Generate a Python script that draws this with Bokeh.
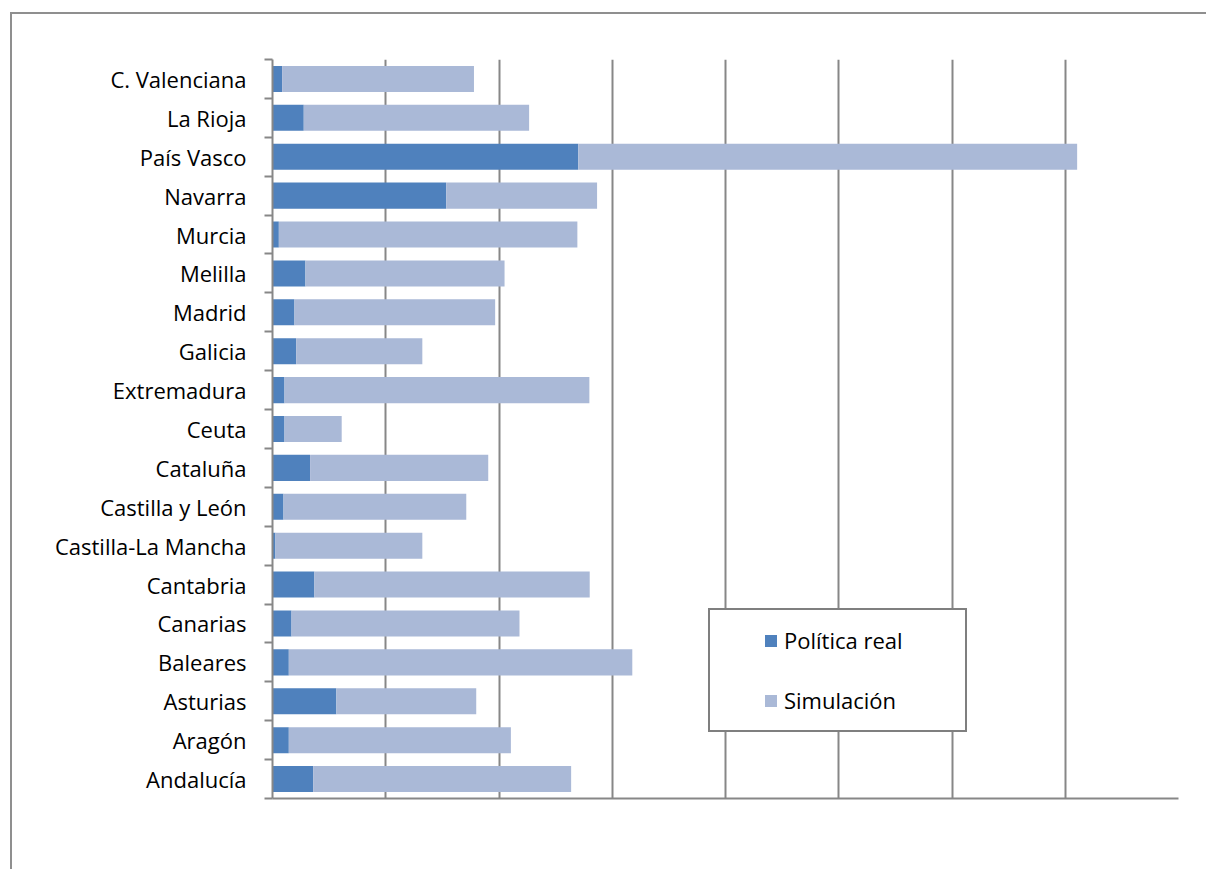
from bokeh.plotting import figure
from bokeh.models import ColumnDataSource, Range1d, FixedTicker
from bokeh.embed import file_html
from bokeh.resources import INLINE

# Data (top to bottom as shown)
regiones = ["C. Valenciana", "La Rioja", "País Vasco", "Navarra", "Murcia", "Melilla",
            "Madrid", "Galicia", "Extremadura", "Ceuta", "Cataluña", "Castilla y León",
            "Castilla-La Mancha", "Cantabria", "Canarias", "Baleares", "Asturias",
            "Aragón", "Andalucía"]
politica_real = [0.085, 0.276, 2.700, 1.534, 0.056, 0.291, 0.194, 0.209, 0.106, 0.106,
                 0.332, 0.097, 0.026, 0.370, 0.168, 0.144, 0.564, 0.144, 0.359]
simulacion = [1.694, 1.990, 4.405, 1.332, 2.636, 1.758, 1.772, 1.114, 2.692, 0.505,
              1.573, 1.614, 1.297, 2.431, 2.013, 3.033, 1.235, 1.961, 2.278]
x_ticks = [0, 1, 2, 3, 4, 5, 6, 7, 8]
series_names = ["Política real", "Simulación"]
series_colors = ["#4f81bd", "#aab9d7"]

n = len(regiones)
pos = [n - 1 - i + 0.5 for i in range(n)]
src = ColumnDataSource(dict(pos=pos, region=regiones, politica=politica_real, simulacion=simulacion))

FONT = "Open Sans"
GRAY = "#878787"

p = figure(width=1196, height=857, output_backend="svg", toolbar_location=None,
           x_range=Range1d(0, 8), y_range=Range1d(0, n),
           min_border_left=260, min_border_top=45, min_border_right=30, min_border_bottom=73)
p.margin = (12, 0, 0, 10)
p.styles = {"border-left": "2px solid #8f8f8f", "border-top": "2px solid #8f8f8f"}
p.outline_line_color = None
p.background_fill_color = "white"
p.border_fill_color = "white"

p.hbar_stack(["politica", "simulacion"], y="pos", height=0.67, color=series_colors,
             source=src, legend_label=series_names, line_color=None)

# X axis: no labels, gridlines
p.xaxis.ticker = FixedTicker(ticks=x_ticks)
p.xaxis.major_label_overrides = {t: "" for t in x_ticks}
p.xaxis.major_tick_out = 0
p.xaxis.major_tick_in = 0
p.xaxis.minor_tick_line_color = None
p.xaxis.axis_line_color = GRAY
p.xaxis.axis_line_width = 2
p.xgrid.ticker = FixedTicker(ticks=x_ticks)
p.xgrid.grid_line_color = GRAY
p.xgrid.grid_line_width = 2
p.ygrid.grid_line_color = None

# Y axis: labels at centres, tick marks at boundaries
p.yaxis.ticker = FixedTicker(ticks=pos, minor_ticks=list(range(n + 1)))
p.yaxis.major_label_overrides = {pp: r for pp, r in zip(pos, regiones)}
p.yaxis.major_tick_in = 0
p.yaxis.major_tick_out = 0
p.yaxis.minor_tick_in = 0
p.yaxis.minor_tick_out = 8
p.yaxis.minor_tick_line_color = GRAY
p.yaxis.minor_tick_line_width = 2
p.yaxis.axis_line_color = GRAY
p.yaxis.axis_line_width = 2
p.yaxis.major_label_standoff = 18
p.yaxis.major_label_text_font = FONT
p.yaxis.major_label_text_font_size = "22px"
p.yaxis.major_label_text_color = "black"

lg = p.legend[0]
lg.location = (436, 66)
lg.padding = 15
lg.spacing = 30
lg.glyph_width = 15
lg.glyph_height = 15
lg.label_standoff = 6
lg.label_width = 166
lg.label_text_font = FONT
lg.label_text_font_size = "22px"
lg.label_text_color = "black"
lg.border_line_color = "black"
lg.border_line_width = 2
lg.background_fill_color = "white"
lg.background_fill_alpha = 1
lg.title = " "
lg.title_location = "left"
lg.title_text_font_size = "10px"
lg.title_standoff = 27

open("out.html", "w").write(file_html(p, INLINE))
